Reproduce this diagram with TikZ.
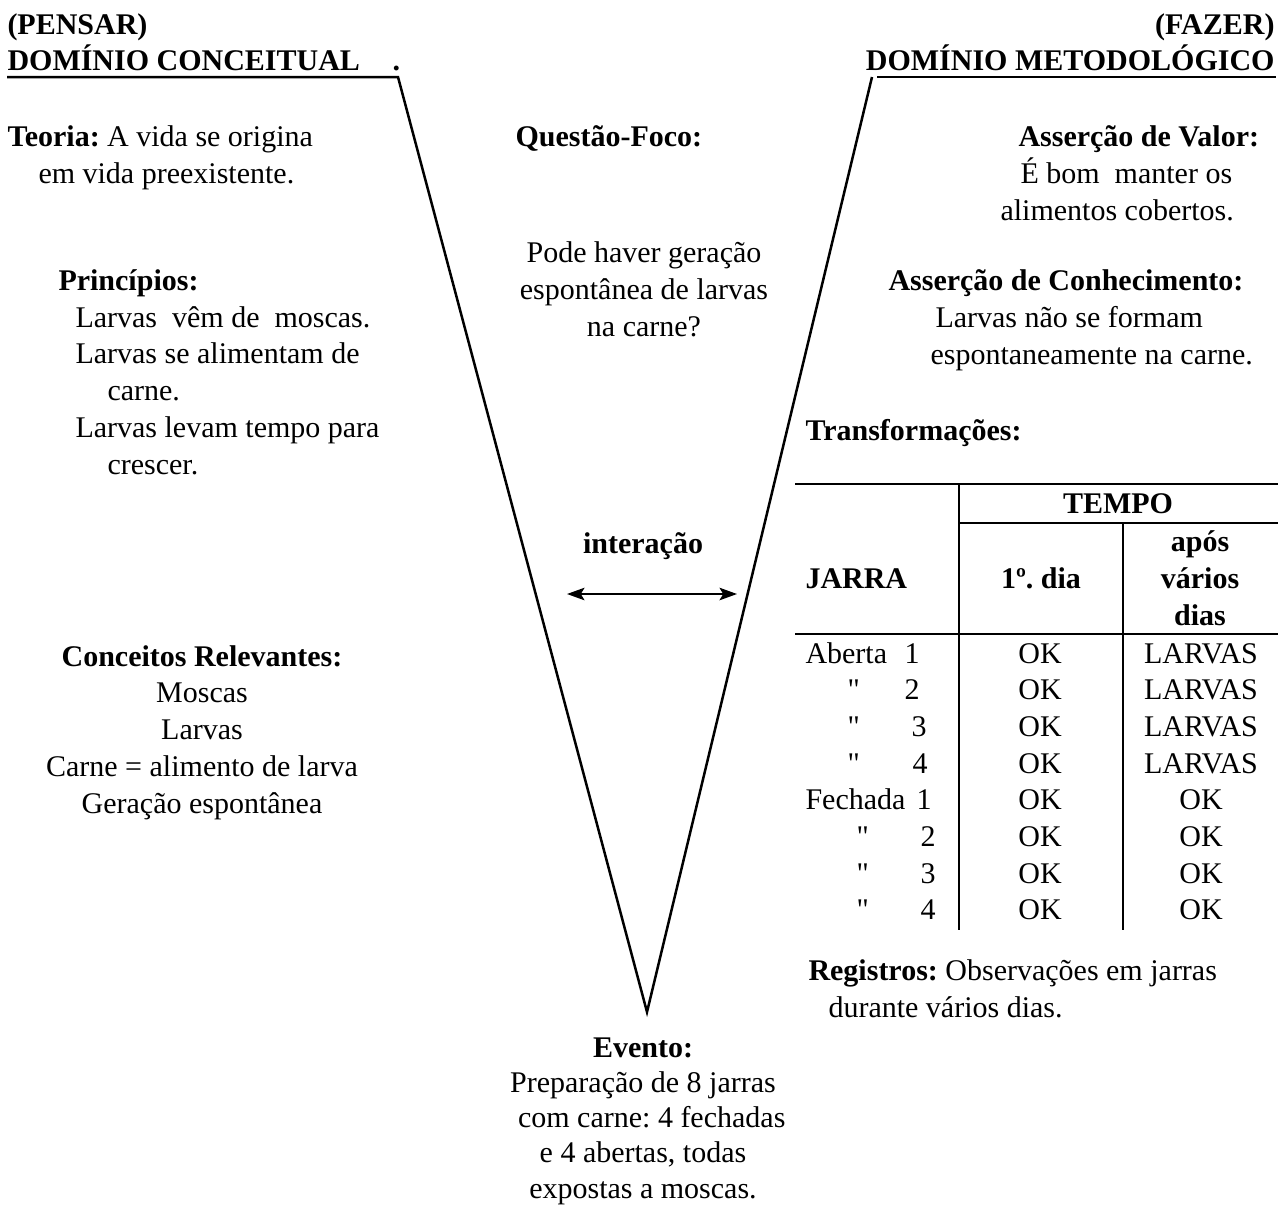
\documentclass[tikz,border=0pt]{standalone}
\usepackage{fontspec}
\setmainfont{Liberation Serif}
\usetikzlibrary{arrows.meta, positioning}
\frenchspacing

\begin{document}
\begin{tikzpicture}[
  x=0.4pt, y=-0.4pt,
  font=\fontsize{12pt}{14.7pt}\selectfont,
  texto/.style={inner sep=0pt, anchor=base west, align=left},
  bloco/.style={inner sep=0pt, anchor=base, align=center},
  titulo/.style={
    inner sep=0pt, anchor=base west,
    font=\fontsize{12pt}{14.7pt}\selectfont\bfseries
  },
  traco/.style={line width=1pt, draw=black},
  grade/.style={line width=0.75pt, draw=black},
  seta/.style={
    {Stealth[length=7pt, width=5pt, inset=1.5pt]}-{Stealth[length=7pt, width=5pt, inset=1.5pt]},
    line width=0.8pt, draw=black
  }
]
  \useasboundingbox (0,0) rectangle (1278,1207);

  % Cabecalhos dos dois dominios
  \node[titulo] (pensar) at (7,34) {(PENSAR)};
  \node[titulo] (dconc) at (7,70) {DOMÍNIO CONCEITUAL};
  \node[titulo] (ponto) at (392,70) {.};
  \node[titulo, anchor=base east] (fazer) at (1275,34) {(FAZER)};
  \node[titulo, anchor=base east] (dmet) at (1275,70) {DOMÍNIO METODOLÓGICO};

  % O V
  \draw[traco] (7,77) -- (398,77) -- (647,1012) -- (872,77);
  \draw[traco] (877,77) -- (1276,77);

  % Lado conceitual (base = ultima linha)
  \node[texto] (teoria) at (7,183) {\textbf{Teoria:} A vida se origina\\\hspace*{12.4pt}em vida preexistente.};
  \node[texto] (principios) at (58,474) {\textbf{Princípios:}\\\hspace*{6.8pt}Larvas\ \ vêm de\ \ moscas.\\\hspace*{6.8pt}Larvas se alimentam de\\\hspace*{19.6pt}carne.\\\hspace*{6.8pt}Larvas levam tempo para\\\hspace*{19.6pt}crescer.};
  \node[bloco] (conceitos) at (202,813) {\textbf{Conceitos Relevantes:}\\Moscas\\Larvas\\Carne = alimento de larva\\Geração espontânea};

  % Centro
  \node[texto] (questao) at (515,146) {\textbf{Questão-Foco:}};
  \node[bloco] (pergunta) at (644,336) {Pode haver geração\\espontânea de larvas\\na carne?};
  \node[bloco] (interacao) at (643,553) {\textbf{interação}};
  \coordinate (intesq) at (567,594);
  \coordinate (intdir) at (737,594);
  \draw[seta] (intesq) -- (intdir);
  \node[bloco, font=\fontsize{12pt}{14.1pt}\selectfont] (evento) at (643,1198) {\textbf{Evento:}\\Preparação de 8 jarras\\\hspace*{7pt}com carne: 4 fechadas\\e 4 abertas, todas\\expostas a moscas.};

  % Lado metodologico
  \node[texto] (valor) at (1000,220) {\hspace*{7.2pt}\textbf{Asserção de Valor:}\\\hspace*{8pt}É bom\ \ manter os\\alimentos cobertos.};
  \node[texto] (conhec) at (888,364) {\textbf{Asserção de Conhecimento:}\\\hspace*{18.8pt}Larvas não se formam\\\hspace*{16.8pt}espontaneamente na carne.};
  \node[texto] (transf) at (805,440) {\textbf{Transformações:}};

  % Tabela
  \draw[grade] (795,484) -- (1278,484);
  \draw[grade] (959,523) -- (1278,523);
  \draw[grade] (795,634) -- (1278,634);
  \draw[grade] (959,484) -- (959,930);
  \draw[grade] (1123,523) -- (1123,930);
  \node[titulo, anchor=base] (tempo) at (1118,513) {TEMPO};
  \node[titulo] (jarra) at (805,588) {JARRA};
  \node[titulo, anchor=base] (dia1) at (1041,588) {1º. dia};
  \node[bloco] (apos) at (1200,625) {\textbf{após}\\\textbf{vários}\\\textbf{dias}};
  \foreach \i/\lab/\lx/\num/\nx/\fim in {1/Aberta/805/1/920/LARVAS, 2/\textquotedbl/847/2/920/LARVAS, 3/\textquotedbl/847/3/927/LARVAS, 4/\textquotedbl/847/4/928/LARVAS, 5/Fechada/805/1/932/OK, 6/\textquotedbl/856/2/936/OK, 7/\textquotedbl/856/3/936/OK, 8/\textquotedbl/856/4/936/OK} {
    \pgfmathsetmacro{\yy}{626.3+36.7*\i}
    \node[texto] (rot\i) at (\lx,\yy) {\lab};
    \node[texto, anchor=base east] (num\i) at (\nx,\yy) {\num};
    \node[bloco] (ok\i) at (1040,\yy) {OK};
    \node[bloco] (fim\i) at (1201,\yy) {\fim};
  }

  \node[texto] (registros) at (808,1017) {\textbf{Registros:} Observações em jarras\\\hspace*{8pt}durante vários dias.};

\end{tikzpicture}
\end{document}
